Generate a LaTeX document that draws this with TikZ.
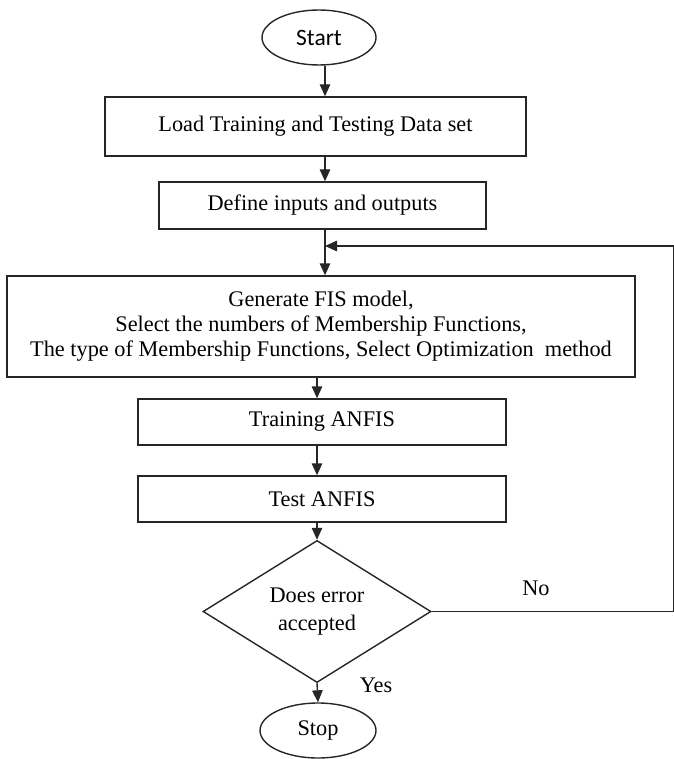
\documentclass[tikz,border=0pt]{standalone}
\usepackage{fontspec}
\setmainfont{Liberation Serif}
\newfontfamily\startfont{Carlito}
\usetikzlibrary{shapes.geometric,arrows.meta}
\begin{document}
\begin{tikzpicture}[x=1pt,y=-1pt,
  every node/.style={font=\fontsize{22.3}{25}\selectfont},
  box/.style={draw=black!85,line width=1.4pt,rectangle,inner sep=0pt,align=center},
  term/.style={draw=black!85,line width=1.4pt,ellipse,inner sep=0pt},
  decis/.style={draw=black!85,line width=1.4pt,diamond,inner sep=0pt,align=center},
  arr/.style={draw=black!85,line width=1.4pt,-{Triangle[length=12pt,width=10.5pt]}},
  lbl/.style={inner sep=0pt}]
\useasboundingbox (0,0) rectangle (673,759);
\coordinate (ax) at (325,0);
\coordinate (bx) at (317,0);
\coordinate (edge) at (673.2,0);
\coordinate (fbin) at (325,246);

\node[term,minimum width=114pt,minimum height=55pt] (start) at (319,37.5) {\startfont\fontsize{23.5}{25}\selectfont Start};
\node[box,minimum width=421pt,minimum height=59pt] (load) at (315.5,126.5) {\raisebox{4pt}{Load Training and Testing Data set}};
\node[box,minimum width=327pt,minimum height=47pt] (define) at (322.5,205.5) {Define inputs and outputs};
\node[box,minimum width=628pt,minimum height=101pt] (gen) at (321,326.5)
  {Generate FIS model,\\ Select the numbers of Membership Functions,\\ The type of Membership Functions, Select Optimization\ \ method};
\node[box,minimum width=368pt,minimum height=46pt] (train) at (322,422) {Training ANFIS};
\node[box,minimum width=368pt,minimum height=46pt] (test) at (322,499) {Test ANFIS};
\node[decis,minimum width=228pt,minimum height=123pt,font=\fontsize{22.3}{28}\selectfont] (dec) at (317,611.5) {Does error\\ accepted};
\node[term,minimum width=116pt,minimum height=55pt] (stop) at (318,730.5) {Stop};
\node[lbl] (no) at (536,588) {No};
\node[lbl] (yes) at (376,685) {Yes};

\draw[arr] (start.south -| ax) -- (load.north -| ax);
\draw[arr] (load.south -| ax) -- (define.north -| ax);
\draw[arr] (define.south -| ax) -- (gen.north -| ax);
\draw[arr] (gen.south -| bx) -- (train.north -| bx);
\draw[arr] (train.south -| bx) -- (test.north -| bx);
\draw[arr] (test.south -| bx) -- (dec.north);
\draw[arr] (dec.south) -- (stop.north);
\draw[arr] (dec.east) -- (dec.east -| edge) |- (fbin);
\end{tikzpicture}
\end{document}
